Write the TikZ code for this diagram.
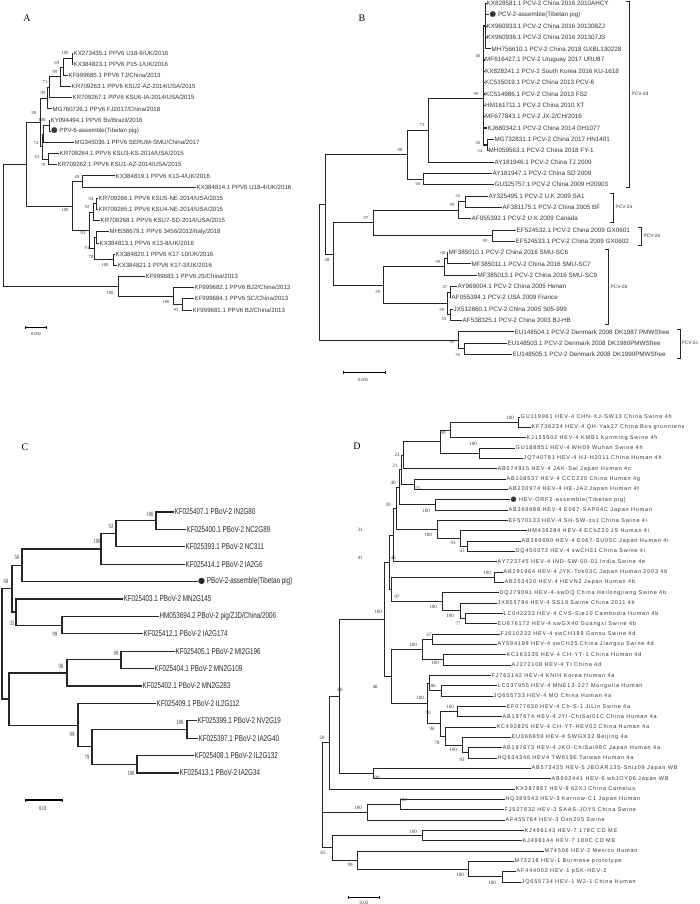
\documentclass[tikz,border=0pt]{standalone}
\usepackage{fontspec}
\setmainfont{Liberation Sans}
\newfontfamily\serf{Liberation Serif}
\newfontfamily\narr[FakeStretch=0.74]{Liberation Sans}
\newfontfamily\narrs[FakeStretch=0.7]{Liberation Serif}
\newfontfamily\widef[LetterSpace=15]{Liberation Sans}
\newfontfamily\symf{DejaVu Sans}
\newcommand\dotm[1]{{\fontsize{#1}{#1}\symf ●}}
\usetikzlibrary{arrows.meta}
\tikzset{
  br/.style={line width=0.8pt, black!85},
  lfA/.style={anchor=west, inner sep=0.5pt, text=black!80, font=\fontsize{6.1}{7}\selectfont},
  lfB/.style={anchor=west, inner sep=0.5pt, text=black!80, font=\fontsize{6.3}{7}\selectfont},
  lfC/.style={anchor=west, inner sep=0.5pt, text=black!85, font=\fontsize{8.5}{9}\narr},
  lfD/.style={anchor=west, inner sep=0.5pt, text=black!80, font=\fontsize{5.5}{6}\widef},
  bs/.style={inner sep=0pt, text=black!80, font=\fontsize{4.6}{5}\serf},
  bsC/.style={inner sep=0pt, text=black!85, font=\fontsize{6.5}{7}\narrs},
  bsD/.style={inner sep=0pt, text=black!80, font=\fontsize{5}{5}\serf},
  panel/.style={inner sep=0pt, font=\fontsize{10}{10}\serf},
  clade/.style={anchor=west, inner sep=0.5pt, text=black!80, font=\fontsize{4.8}{5}\selectfont},
  sbar/.style={line width=0.8pt, {Bar[width=3pt]}-{Bar[width=3pt]}}
}
\begin{document}
\begin{tikzpicture}[x=1pt, y=-1pt]
\useasboundingbox (0,0) rectangle (700,904);

\node[panel] (pa) at (27,18) {A};
\node[lfA] (a1) at (73,53) {KX273435.1 PPV6 U18-9/UK/2016};
\node[lfA] (a2) at (73,64.2) {KX384823.1 PPV6 P15-1/UK/2016};
\node[lfA] (a3) at (68,75.3) {KF999685.1 PPV6 TJ/China/2013};
\node[lfA] (a4) at (71,86.5) {KR709263.1 PPV6 KSU2-AZ-2014/USA/2015};
\node[lfA] (a5) at (72,97.7) {KR709267.1 PPV6 KSU6-IA-2014/USA/2015};
\node[lfA] (a6) at (52,108.9) {MG760726.1 PPV6 FJ2017/China/2018};
\node[lfA] (a7) at (50,120) {KY094494.1 PPV6 Bv/Brazil/2016};
\node[lfA] (a8) at (50.5,131.2) {\dotm{7.5} PPV-6-assemble(Tibetan pig)};
\node[lfA] (a9) at (74,142.4) {MG345036.1 PPV6 SERUM-SMU/China/2017};
\node[lfA] (a10) at (59,153.5) {KR709264.1 PPV6 KSU3-KS-2014/USA/2015};
\node[lfA] (a11) at (57,164.7) {KR709262.1 PPV6 KSU1-AZ-2014/USA/2015};
\node[lfA] (a12) at (115,175.9) {KX384819.1 PPV6 K13-4/UK/2016};
\node[lfA] (a13) at (196,187) {KX384814.1 PPV6 U18-4/UK/2016};
\node[lfA] (a14) at (98,198.2) {KR709266.1 PPV6 KSU5-NE-2014/USA/2015};
\node[lfA] (a15) at (98,209.4) {KR709265.1 PPV6 KSU4-NE-2014/USA/2015};
\node[lfA] (a16) at (100,220.6) {KR709268.1 PPV6 KSU7-SD-2014/USA/2015};
\node[lfA] (a17) at (109,231.7) {MH558679.1 PPV6 3456/2012/Italy/2018};
\node[lfA] (a18) at (99,242.9) {KX384813.1 PPV6 K13-8/UK/2016};
\node[lfA] (a19) at (115,254.1) {KX384820.1 PPV6 K17-10/UK/2016};
\node[lfA] (a20) at (117,265.2) {KX384821.1 PPV6 K17-3/UK/2016};
\node[lfA] (a21) at (145,276.4) {KF999683.1 PPV6 JS/China/2013};
\node[lfA] (a22) at (194,287.6) {KF999682.1 PPV6 BJ2/China/2013};
\node[lfA] (a23) at (194,298.7) {KF999684.1 PPV6 SC/China/2013};
\node[lfA] (a24) at (192,309.9) {KF999681.1 PPV6 BJ/China/2013};
\coordinate (na1) at (72,58.6);
\coordinate (na2) at (63,67);
\coordinate (na3) at (60,76.7);
\coordinate (na4) at (49,87.2);
\coordinate (na5) at (47,98);
\coordinate (na6) at (49,125.6);
\coordinate (na7) at (43,134);
\coordinate (na8) at (48,159.1);
\coordinate (na9) at (42,146.6);
\coordinate (na10) at (40,122.3);
\coordinate (na11) at (26,164.1);
\coordinate (na12) at (82,181.5);
\coordinate (na13) at (96,203.8);
\coordinate (na14) at (93,212.2);
\coordinate (na15) at (96,237.3);
\coordinate (na16) at (113,259.7);
\coordinate (na17) at (94,248.5);
\coordinate (na18) at (89,230.3);
\coordinate (na19) at (72,205.9);
\coordinate (na20) at (182,304.3);
\coordinate (na21) at (173,296);
\coordinate (na22) at (118,286.2);
\coordinate (na23) at (3,225);
\draw[br] (na1) |- (a1) (na1) |- (a2);
\draw[br] (na2) |- (na1) (na2) |- (a3);
\draw[br] (na3) |- (na2) (na3) |- (a4);
\draw[br] (na4) |- (na3) (na4) |- (a5);
\draw[br] (na5) |- (na4) (na5) |- (a6);
\draw[br] (na6) |- (a7) (na6) |- (a8);
\draw[br] (na7) |- (na6) (na7) |- (a9);
\draw[br] (na8) |- (a10) (na8) |- (a11);
\draw[br] (na9) |- (na7) (na9) |- (na8);
\draw[br] (na10) |- (na5) (na10) |- (na9);
\draw[br] (na11) |- (na10) (na11) |- (na19);
\draw[br] (na12) |- (a12) (na12) |- (a13);
\draw[br] (na13) |- (a14) (na13) |- (a15);
\draw[br] (na14) |- (na13) (na14) |- (a16);
\draw[br] (na15) |- (a17) (na15) |- (a18);
\draw[br] (na16) |- (a19) (na16) |- (a20);
\draw[br] (na17) |- (na15) (na17) |- (na16);
\draw[br] (na18) |- (na14) (na18) |- (na17);
\draw[br] (na19) |- (na12) (na19) |- (na18);
\draw[br] (na20) |- (a23) (na20) |- (a24);
\draw[br] (na21) |- (a22) (na21) |- (na20);
\draw[br] (na22) |- (a21) (na22) |- (na21);
\draw[br] (na23) |- (na11) (na23) |- (na22);
\node[bs] (ba1) at (65,53) {100};
\node[bs] (ba2) at (57,63) {69};
\node[bs] (ba3) at (55,72) {99};
\node[bs] (ba4) at (45,82) {71};
\node[bs] (ba5) at (43,93) {99};
\node[bs] (ba6) at (34,113) {98};
\node[bs] (ba7) at (42,120) {100};
\node[bs] (ba8) at (36,143) {74};
\node[bs] (ba9) at (37,157) {63};
\node[bs] (ba10) at (43,165) {70};
\node[bs] (ba11) at (77,177) {49};
\node[bs] (ba12) at (91,199) {94};
\node[bs] (ba13) at (87,207) {92};
\node[bs] (ba14) at (65,210) {100};
\node[bs] (ba15) at (83,233) {93};
\node[bs] (ba16) at (87,248) {91};
\node[bs] (ba17) at (91,257) {70};
\node[bs] (ba18) at (105,265) {100};
\node[bs] (ba19) at (110,293) {100};
\node[bs] (ba20) at (166,302) {100};
\node[bs] (ba21) at (176,310) {93};
\coordinate (sa1) at (25,327);
\coordinate (sa2) at (47,327);
\draw[sbar] (sa1) -- (sa2);
\node[bs] (ta) at (36,334) {0.002};

\node[panel] (pb) at (362,18) {B};
\node[lfB] (b1) at (486,3.5) {KX828581.1 PCV-2 China 2016 2010AHCY};
\node[lfB] (b2) at (489,14.8) {\dotm{7.5} PCV-2-assemble(Tibetan pig)};
\node[lfB] (b3) at (486,26.1) {KX960933.1 PCV-2 China 2016 201308ZJ};
\node[lfB] (b4) at (486,37.5) {KX960936.1 PCV-2 China 2016 201307JS};
\node[lfB] (b5) at (491,48.8) {MH756610.1 PCV-2 China 2018 GXBL130228};
\node[lfB] (b6) at (484.5,60.1) {MF616427.1 PCV-2 Uruguay 2017 URU87};
\node[lfB] (b7) at (484.5,71.4) {KX828241.1 PCV-2 South Korea 2016 KU-1618};
\node[lfB] (b8) at (484.5,82.7) {KC515019.1 PCV-2 China 2013 PCV-6};
\node[lfB] (b9) at (484.5,94.1) {KC514986.1 PCV-2 China 2013 FS2};
\node[lfB] (b10) at (484.5,105.4) {HM161711.1 PCV-2 China 2010 XT};
\node[lfB] (b11) at (484.5,116.7) {MF677843.1 PCV-2 JX-2/CH/2016};
\node[lfB] (b12) at (487,128) {KJ680342.1 PCV-2 China 2014 DH1077};
\node[lfB] (b13) at (494,139.3) {MG732831.1 PCV-2 China 2017 HN1401};
\node[lfB] (b14) at (488,150.7) {MH059563.1 PCV-2 China 2018 FY-1};
\node[lfB] (b15) at (494,162) {AY181946.1 PCV-2 China TJ 2009};
\node[lfB] (b16) at (492,173.3) {AY181947.1 PCV-2 China SD 2009};
\node[lfB] (b17) at (494,184.6) {GU325757.1 PCV-2 China 2009 H20903};
\node[lfB] (b18) at (488,195.9) {AY325495.1 PCV-2 U.K 2009 SA1};
\node[lfB] (b19) at (502,207.2) {AF381175.1 PCV-2 China 2005 BF};
\node[lfB] (b20) at (471,218.6) {AF055392.1 PCV-2 U.K 2009 Canada};
\node[lfB] (b21) at (516,229.9) {EF524532.1 PCV-2 China 2009 GX0601};
\node[lfB] (b22) at (515,241.2) {EF524533.1 PCV-2 China 2009 GX0602};
\node[lfB] (b23) at (448,252.5) {MF385010.1 PCV-2 China 2016 SMU-SC6};
\node[lfB] (b24) at (471,263.8) {MF385011.1 PCV-2 China 2016 SMU-SC7};
\node[lfB] (b25) at (477,275.2) {MF385013.1 PCV-2 China 2016 SMU-SC9};
\node[lfB] (b26) at (457,286.5) {AY969004.1 PCV-2 China 2005 Henan};
\node[lfB] (b27) at (451,297.8) {AF055394.1 PCV-2 USA 2009 France};
\node[lfB] (b28) at (453,309.1) {JX512860.1 PCV-2 China 2005 S05-999};
\node[lfB] (b29) at (462,320.4) {AF538325.1 PCV-2 China 2003 BJ-HB};
\node[lfB] (b30) at (514,331.8) {EU148504.1 PCV-2 Denmark 2008 DK1987 PMWSfree};
\node[lfB] (b31) at (507,343.1) {EU148503.1 PCV-2 Denmark 2008 DK1980PMWSfree};
\node[lfB] (b32) at (512,354.4) {EU148505.1 PCV-2 Denmark 2008 DK1990PMWSfree};
\coordinate (nb1) at (483.5,98);
\coordinate (nb2) at (487.5,145);
\coordinate (nb3) at (485.5,26);
\coordinate (nb4) at (428,130);
\coordinate (nb5) at (423,179);
\coordinate (nb6) at (407,154.5);
\coordinate (nb7) at (465,201.6);
\coordinate (nb8) at (458,210.1);
\coordinate (nb9) at (492,235.5);
\coordinate (nb10) at (373,222.8);
\coordinate (nb11) at (447,258.2);
\coordinate (nb12) at (444,266.7);
\coordinate (nb13) at (450,292.2);
\coordinate (nb14) at (450,314.8);
\coordinate (nb15) at (447,303.5);
\coordinate (nb16) at (383,285.1);
\coordinate (nb17) at (464,348.8);
\coordinate (nb18) at (458,340.3);
\coordinate (nb19) at (333,254);
\coordinate (nb20) at (325,204.3);
\coordinate (nb21) at (319,272.3);
\draw[br] (nb3) |- (b1) (nb3) |- (b2) (nb3) |- (b3) (nb3) |- (b4) (nb3) |- (b5);
\draw[br] (nb2) |- (b13) (nb2) |- (b14);
\draw[br, line width=1.4pt] (nb1) |- (nb3) (nb1) |- (b6) (nb1) |- (b7) (nb1) |- (b8) (nb1) |- (b9) (nb1) |- (b10) (nb1) |- (b11) (nb1) |- (b12) (nb1) |- (nb2);
\draw[br] (nb4) |- (nb1) (nb4) |- (b15);
\draw[br] (nb5) |- (b16) (nb5) |- (b17);
\draw[br] (nb6) |- (nb4) (nb6) |- (nb5);
\draw[br] (nb7) |- (b18) (nb7) |- (b19);
\draw[br] (nb8) |- (nb7) (nb8) |- (b20);
\draw[br] (nb9) |- (b21) (nb9) |- (b22);
\draw[br] (nb10) |- (nb8) (nb10) |- (nb9);
\draw[br] (nb11) |- (b23) (nb11) |- (b24);
\draw[br] (nb12) |- (nb11) (nb12) |- (b25);
\draw[br] (nb13) |- (b26) (nb13) |- (b27);
\draw[br] (nb14) |- (b28) (nb14) |- (b29);
\draw[br] (nb15) |- (nb13) (nb15) |- (nb14);
\draw[br] (nb16) |- (nb12) (nb16) |- (nb15);
\draw[br] (nb17) |- (b31) (nb17) |- (b32);
\draw[br] (nb18) |- (b30) (nb18) |- (nb17);
\draw[br] (nb19) |- (nb10) (nb19) |- (nb16);
\draw[br] (nb20) |- (nb6) (nb20) |- (nb19);
\draw[br] (nb21) |- (nb20) (nb21) |- (nb18);
\node[bs] (bb1) at (478,56) {46};
\node[bs] (bb2) at (476,94) {99};
\node[bs] (bb3) at (478,143) {36};
\node[bs] (bb4) at (480,151) {54};
\node[bs] (bb5) at (422,125) {73};
\node[bs] (bb6) at (400,150) {98};
\node[bs] (bb7) at (418,184) {60};
\node[bs] (bb8) at (458,196) {55};
\node[bs] (bb9) at (452,205) {99};
\node[bs] (bb10) at (366,218) {97};
\node[bs] (bb11) at (485,241) {99};
\node[bs] (bb12) at (443,253) {60};
\node[bs] (bb13) at (438,262) {99};
\node[bs] (bb14) at (445,287) {47};
\node[bs] (bb15) at (442,310) {99};
\node[bs] (bb16) at (444,319) {55};
\node[bs] (bb17) at (378,292) {99};
\node[bs] (bb18) at (452,342) {99};
\node[bs] (bb19) at (458,355) {55};
\node[bs] (bb20) at (327,260) {48};
\draw[br] (626,1.5) -- (629,1.5) -- (629,187) -- (626,187);
\node[clade] (g2d) at (631,94) {PCV-2d};
\draw[br] (610,193) -- (613,193) -- (613,222) -- (610,222);
\node[clade] (g2a) at (615,207) {PCV-2a};
\draw[br] (638,227) -- (641,227) -- (641,245) -- (638,245);
\node[clade] (g2e) at (643,236) {PCV-2e};
\draw[br] (605,249) -- (608,249) -- (608,324) -- (605,324);
\node[clade] (g2b) at (610,287) {PCV-2b};
\draw[br] (677,329) -- (680,329) -- (680,358) -- (677,358);
\node[clade] (g2c) at (681,343) {PCV-2c};
\coordinate (sb1) at (343,372);
\coordinate (sb2) at (386,372);
\draw[sbar] (sb1) -- (sb2);
\node[bs] (tb) at (363,380) {0.005};

\node[panel] (pc) at (25,447) {C};
\node[lfC] (c1) at (174,512) {KF025407.1 PBoV-2 IN2G80};
\node[lfC] (c2) at (186,529.4) {KF025400.1 PBoV-2 NC2G89};
\node[lfC] (c3) at (185,546.8) {KF025393.1 PBoV-2 NC311};
\node[lfC] (c4) at (185,564.2) {KF025414.1 PBoV-2 IA2G6};
\node[lfC] (c5) at (197.5,581.6) {\dotm{8} PBoV-2-assemble(Tibetan pig)};
\node[lfC] (c6) at (123,599) {KF025403.1 PBoV-2 MN2G145};
\node[lfC] (c7) at (159,616.4) {HM053694.2 PBoV-2 pig/ZJD/China/2006};
\node[lfC] (c8) at (143,633.8) {KF025412.1 PBoV-2 IA2G174};
\node[lfC] (c9) at (175,651.2) {KF025405.1 PBoV-2 MI2G196};
\node[lfC] (c10) at (154,668.6) {KF025404.1 PBoV-2 MN2G109};
\node[lfC] (c11) at (142,686) {KF025402.1 PBoV-2 MN2G283};
\node[lfC] (c12) at (156,703.4) {KF025409.1 PBoV-2 IL2G112};
\node[lfC] (c13) at (197,720.8) {KF025399.1 PBoV-2 NV2G19};
\node[lfC] (c14) at (198,738.2) {KF025397.1 PBoV-2 IA2G40};
\node[lfC] (c15) at (194,755.6) {KF025408.1 PBoV-2 IL2G132};
\node[lfC] (c16) at (179,773) {KF025413.1 PBoV-2 IA2G34};
\coordinate (nc1) at (156,520.7);
\coordinate (nc2) at (116,533.8);
\coordinate (nc3) at (101,549);
\coordinate (nc4) at (22,565.3);
\coordinate (nc5) at (62,625.1);
\coordinate (nc6) at (16,612);
\coordinate (nc7) at (12,588.7);
\coordinate (nc8) at (121,659.9);
\coordinate (nc9) at (67,673);
\coordinate (nc10) at (187,729.5);
\coordinate (nc11) at (137,764.3);
\coordinate (nc12) at (92,746.9);
\coordinate (nc13) at (78,725.2);
\coordinate (nc14) at (9,699);
\coordinate (nc15) at (2,643.9);
\begin{scope}[br, line width=1.1pt]
\draw (nc1) |- (c1) (nc1) |- (c2);
\draw (nc2) |- (nc1) (nc2) |- (c3);
\draw (nc3) |- (nc2) (nc3) |- (c4);
\draw (nc4) |- (nc3) (nc4) |- (c5);
\draw (nc5) |- (c7) (nc5) |- (c8);
\draw (nc6) |- (c6) (nc6) |- (nc5);
\draw (nc7) |- (nc4) (nc7) |- (nc6);
\draw (nc8) |- (c9) (nc8) |- (c10);
\draw (nc9) |- (nc8) (nc9) |- (c11);
\draw (nc10) |- (c13) (nc10) |- (c14);
\draw (nc11) |- (c15) (nc11) |- (c16);
\draw (nc12) |- (nc10) (nc12) |- (nc11);
\draw (nc13) |- (c12) (nc13) |- (nc12);
\draw (nc14) |- (nc9) (nc14) |- (nc13);
\draw (nc15) |- (nc7) (nc15) |- (nc14);
\end{scope}
\node[bsC] (bc1) at (150,514) {100};
\node[bsC] (bc2) at (111,526) {92};
\node[bsC] (bc3) at (97,541) {100};
\node[bsC] (bc4) at (17,557) {50};
\node[bsC] (bc5) at (6,581) {68};
\node[bsC] (bc6) at (12,623) {35};
\node[bsC] (bc7) at (55,634) {99};
\node[bsC] (bc8) at (116,653) {99};
\node[bsC] (bc9) at (61,666) {98};
\node[bsC] (bc10) at (180,722) {100};
\node[bsC] (bc11) at (72,734) {99};
\node[bsC] (bc12) at (87,757) {79};
\node[bsC] (bc13) at (131,773) {100};
\coordinate (sc1) at (25,800);
\coordinate (sc2) at (63,800);
\draw[sbar, line width=1.1pt] (sc1) -- (sc2);
\node[bsC] (tc) at (43,808) {0.01};

\node[panel] (pd) at (357,446) {D};
\node[lfD] (d1) at (520,417) {GU119961 HEV-4 CHN-XJ-SW13 China Swine 4h};
\node[lfD] (d2) at (531,427.3) {KF736234 HEV-4 QH-Yak27 China Bos grunniens};
\node[lfD] (d3) at (526,437.7) {KJ155502 HEV-4 KMB1 Kunming Swine 4h};
\node[lfD] (d4) at (515,448) {GU188851 HEV-4 WH09 Wuhan Swine 4h};
\node[lfD] (d5) at (523,458.3) {JQ740781 HEV-4 HJ-H2011 China Human 4h};
\node[lfD] (d6) at (497,468.7) {AB074915 HEV-4 JAK-Sai Japan Human 4c};
\node[lfD] (d7) at (506,479) {AB108537 HEV-4 CCC220 China Human 4g};
\node[lfD] (d8) at (508,489.3) {AB220974 HEV-4 HE-JA2 Japan Human 4f};
\node[lfD] (d9) at (510,499.6) {\dotm{7} HEV-ORF2-assemble(Tibetan pig)};
\node[lfD] (d10) at (508,510) {AB369688 HEV-4 E087-SAP04C Japan Human};
\node[lfD] (d11) at (508,520.3) {EF570133 HEV-4 SH-SW-zs1 China Swine 4i};
\node[lfD] (d12) at (527,530.6) {HM439284 HEV-4 EChZ20 JS Human 4i};
\node[lfD] (d13) at (521,541) {AB369690 HEV-4 E067-SU05C Japan Human 4i};
\node[lfD] (d14) at (515,551.3) {DQ450072 HEV-4 swCH31 China Swine 4i};
\node[lfD] (d15) at (497,561.6) {AY723745 HEV-4 IND-SW-00-01 India Swine 4e};
\node[lfD] (d16) at (503,572) {AB291964 HEV-4 JYK-Tok03C Japan Human 2003 4b};
\node[lfD] (d17) at (504,582.3) {AB253420 HEV-4 HEVN2 Japan Human 4b};
\node[lfD] (d18) at (499,592.6) {DQ279091 HEV-4-swDQ China Heilongjiang Swine 4b};
\node[lfD] (d19) at (497,603) {JX855794 HEV-4 SS19 Swine China 2011 4b};
\node[lfD] (d20) at (503,613.3) {LC042232 HEV-4 CVS-Sie10 Cambodia Human 4b};
\node[lfD] (d21) at (497,623.6) {EU676172 HEV-4 swGX40 Guangxi Swine 4b};
\node[lfD] (d22) at (500,634) {FJ610232 HEV-4 swCH189 Gansu Swine 4d};
\node[lfD] (d23) at (497,644.3) {AY594199 HEV-4 swCH25 China Jiangsu Swine 4d};
\node[lfD] (d24) at (506,654.6) {KC163335 HEV-4 CH-YT-1 China Human 4d};
\node[lfD] (d25) at (511,665) {AJ272108 HEV-4 TI China 4d};
\node[lfD] (d26) at (491,675.3) {FJ763142 HEV-4 KNIH Korea Human 4a};
\node[lfD] (d27) at (497,685.6) {LC037955 HEV-4 MNE13-227 Mongolia Human};
\node[lfD] (d28) at (493,696) {JQ655733 HEV-4 MO China Human 4a};
\node[lfD] (d29) at (506,706.3) {EF077630 HEV-4 Ch-S-1 JiLin Swine 4a};
\node[lfD] (d30) at (502,716.6) {AB197674 HEV-4 JYI-ChiSai01C China Human 4a};
\node[lfD] (d31) at (496,727) {KC492825 HEV-4 CH-YT-HEV02 China Human 4a};
\node[lfD] (d32) at (511,737.3) {EU366959 HEV-4 SWGX32 Beijing 4a};
\node[lfD] (d33) at (502,747.6) {AB197673 HEV-4 JKO-ChiSai98C Japan Human 4a};
\node[lfD] (d34) at (497,758) {HQ634346 HEV4 TW619E Taiwan Human 4a};
\node[lfD] (d35) at (531,768.3) {AB573435 HEV-5 JBOAR135-Shiz09 Japan WB};
\node[lfD] (d36) at (551,778.6) {AB602441 HEV-6 wbJOY06 Japan WB};
\node[lfD] (d37) at (515,789) {KX387867 HEV-8 62XJ China Camelus};
\node[lfD] (d38) at (505,799.3) {HQ389543 HEV-3 Kernow-C1 Japan Human};
\node[lfD] (d39) at (504,809.6) {FJ527832 HEV-3 SAAS-JDY5 China Swine};
\node[lfD] (d40) at (505,820) {AF455784 HEV-3 Osh205 Swine};
\node[lfD] (d41) at (524,830.3) {KJ496143 HEV-7 178C CD ME};
\node[lfD] (d42) at (522,840.6) {KJ496144 HEV-7 180C CD ME};
\node[lfD] (d43) at (544,851) {M74506 HEV-2 Mexico Human};
\node[lfD] (d44) at (514,861.3) {M73218 HEV-1 Burmese prototype};
\node[lfD] (d45) at (516,871.6) {AF444002 HEV-1 pSK-HEV-2};
\node[lfD] (d46) at (521,882) {JQ655734 HEV-1 W2-1 China Human};
\coordinate (nd1) at (518,422.2);
\coordinate (nd2) at (450,430);
\coordinate (nd3) at (479,453.2);
\coordinate (nd4) at (440,441.6);
\coordinate (nd5) at (403,455.2);
\coordinate (nd6) at (414,484.2);
\coordinate (nd7) at (401,469.7);
\coordinate (nd8) at (435,504.8);
\coordinate (nd9) at (399,487.3);
\coordinate (nd10) at (467,546.2);
\coordinate (nd11) at (460,538.4);
\coordinate (nd12) at (437,529.4);
\coordinate (nd13) at (396,508.3);
\coordinate (nd14) at (393,534.9);
\coordinate (nd15) at (494,577.2);
\coordinate (nd16) at (465,618.5);
\coordinate (nd17) at (460,610.8);
\coordinate (nd18) at (442,601.7);
\coordinate (nd19) at (391,589.5);
\coordinate (nd20) at (389,562.2);
\coordinate (nd21) at (432,639.2);
\coordinate (nd22) at (443,659.8);
\coordinate (nd23) at (422,649.5);
\coordinate (nd24) at (441,690.8);
\coordinate (nd25) at (429,683);
\coordinate (nd26) at (457,711.5);
\coordinate (nd27) at (468,752.8);
\coordinate (nd28) at (462,745.1);
\coordinate (nd29) at (445,736);
\coordinate (nd30) at (440,723.8);
\coordinate (nd31) at (427,703.4);
\coordinate (nd32) at (391,676.5);
\coordinate (nd33) at (384,619.3);
\coordinate (nd34) at (373,773.5);
\coordinate (nd35) at (339,696.4);
\coordinate (nd36) at (329,742.7);
\coordinate (nd37) at (400,804.5);
\coordinate (nd38) at (367,812.2);
\coordinate (nd39) at (422,835.5);
\coordinate (nd40) at (502,876.8);
\coordinate (nd41) at (468,869);
\coordinate (nd42) at (357,860);
\coordinate (nd43) at (332,847.8);
\coordinate (nd44) at (322,795);
\begin{scope}[br, line width=0.7pt]
\draw (nd1) |- (d1) (nd1) |- (d2);
\draw (nd2) |- (nd1) (nd2) |- (d3);
\draw (nd3) |- (d4) (nd3) |- (d5);
\draw (nd4) |- (nd2) (nd4) |- (nd3);
\draw (nd5) |- (nd4) (nd5) |- (d6);
\draw (nd6) |- (d7) (nd6) |- (d8);
\draw (nd7) |- (nd5) (nd7) |- (nd6);
\draw (nd8) |- (d9) (nd8) |- (d10);
\draw (nd9) |- (nd7) (nd9) |- (nd8);
\draw (nd10) |- (d13) (nd10) |- (d14);
\draw (nd11) |- (d12) (nd11) |- (nd10);
\draw (nd12) |- (d11) (nd12) |- (nd11);
\draw (nd13) |- (nd9) (nd13) |- (nd12);
\draw (nd14) |- (nd13) (nd14) |- (d15);
\draw (nd15) |- (d16) (nd15) |- (d17);
\draw (nd16) |- (d20) (nd16) |- (d21);
\draw (nd17) |- (d19) (nd17) |- (nd16);
\draw (nd18) |- (d18) (nd18) |- (nd17);
\draw (nd19) |- (nd15) (nd19) |- (nd18);
\draw (nd20) |- (nd14) (nd20) |- (nd19);
\draw (nd21) |- (d22) (nd21) |- (d23);
\draw (nd22) |- (d24) (nd22) |- (d25);
\draw (nd23) |- (nd21) (nd23) |- (nd22);
\draw (nd24) |- (d27) (nd24) |- (d28);
\draw (nd25) |- (d26) (nd25) |- (nd24);
\draw (nd26) |- (d29) (nd26) |- (d30);
\draw (nd27) |- (d33) (nd27) |- (d34);
\draw (nd28) |- (d32) (nd28) |- (nd27);
\draw (nd29) |- (d31) (nd29) |- (nd28);
\draw (nd30) |- (nd26) (nd30) |- (nd29);
\draw (nd31) |- (nd25) (nd31) |- (nd30);
\draw (nd32) |- (nd23) (nd32) |- (nd31);
\draw (nd33) |- (nd20) (nd33) |- (nd32);
\draw (nd34) |- (d35) (nd34) |- (d36);
\draw (nd35) |- (nd33) (nd35) |- (nd34);
\draw (nd36) |- (nd35) (nd36) |- (d37);
\draw (nd37) |- (d38) (nd37) |- (d39);
\draw (nd38) |- (nd37) (nd38) |- (d40);
\draw (nd39) |- (d41) (nd39) |- (d42);
\draw (nd40) |- (d45) (nd40) |- (d46);
\draw (nd41) |- (d44) (nd41) |- (nd40);
\draw (nd42) |- (d43) (nd42) |- (nd41);
\draw (nd43) |- (nd39) (nd43) |- (nd42);
\draw (nd44) |- (nd36) (nd44) |- (nd38) (nd44) |- (nd43);
\end{scope}
\node[bsD] (bd1) at (510,418) {100};
\node[bsD] (bd2) at (443,433) {99};
\node[bsD] (bd3) at (473,444) {100};
\node[bsD] (bd4) at (397,455) {23};
\node[bsD] (bd5) at (395,466) {21};
\node[bsD] (bd6) at (393,483) {40};
\node[bsD] (bd7) at (418,489) {75};
\node[bsD] (bd8) at (388,505) {39};
\node[bsD] (bd9) at (426,511) {100};
\node[bsD] (bd10) at (360,530) {31};
\node[bsD] (bd11) at (428,535) {100};
\node[bsD] (bd12) at (453,543) {93};
\node[bsD] (bd13) at (462,551) {65};
\node[bsD] (bd14) at (360,558) {41};
\node[bsD] (bd15) at (393,558) {45};
\node[bsD] (bd16) at (487,573) {100};
\node[bsD] (bd17) at (397,597) {97};
\node[bsD] (bd18) at (433,607) {100};
\node[bsD] (bd19) at (378,612) {100};
\node[bsD] (bd20) at (450,616) {100};
\node[bsD] (bd21) at (458,624) {77};
\node[bsD] (bd22) at (429,635) {67};
\node[bsD] (bd23) at (413,645) {100};
\node[bsD] (bd24) at (435,663) {100};
\node[bsD] (bd25) at (375,687) {48};
\node[bsD] (bd26) at (433,686) {86};
\node[bsD] (bd27) at (340,690) {88};
\node[bsD] (bd28) at (420,698) {100};
\node[bsD] (bd29) at (450,707) {100};
\node[bsD] (bd30) at (428,713) {50};
\node[bsD] (bd31) at (432,729) {96};
\node[bsD] (bd32) at (322,738) {59};
\node[bsD] (bd33) at (437,743) {78};
\node[bsD] (bd34) at (453,750) {100};
\node[bsD] (bd35) at (462,760) {93};
\node[bsD] (bd36) at (377,778) {99};
\node[bsD] (bd37) at (403,800) {100};
\node[bsD] (bd38) at (358,808) {100};
\node[bsD] (bd39) at (413,832) {100};
\node[bsD] (bd40) at (323,853) {65};
\node[bsD] (bd41) at (350,865) {99};
\node[bsD] (bd42) at (460,875) {100};
\node[bsD] (bd43) at (492,883) {100};
\coordinate (sd1) at (348,897);
\coordinate (sd2) at (380,897);
\draw[sbar, line width=0.7pt] (sd1) -- (sd2);
\node[bsD] (td) at (364,903) {0.02};
\end{tikzpicture}
\end{document}
